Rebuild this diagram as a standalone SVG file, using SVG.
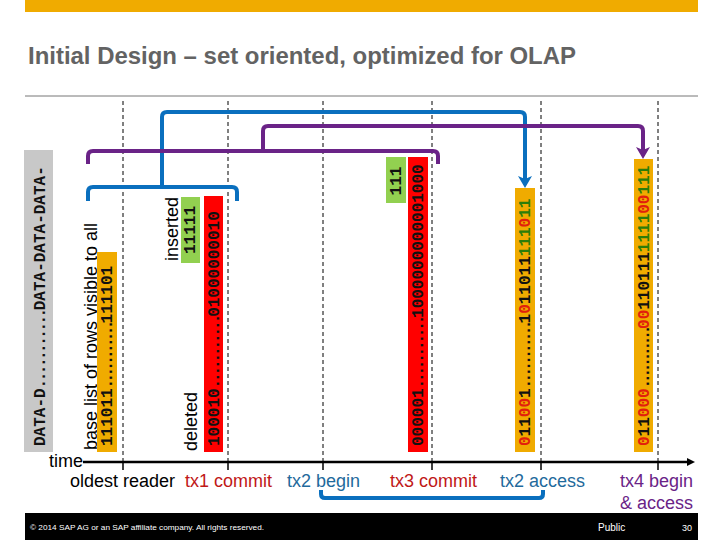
<svg xmlns="http://www.w3.org/2000/svg" width="720" height="540" viewBox="0 0 720 540">
<style>
.mono{font-family:"Liberation Mono","DejaVu Sans Mono",monospace;font-weight:bold;font-size:16px;fill:#111}
.dots{letter-spacing:-3.7px}
.lbl{font-family:"Liberation Sans",Arial,sans-serif;font-size:18px}
.dash{stroke:#000;stroke-width:1;stroke-dasharray:4 3;fill:none}
.tick{stroke:#000;stroke-width:1.5}
.blue{stroke:#0a6fbe;stroke-width:4;fill:none;stroke-linejoin:round}
.purple{stroke:#6a2387;stroke-width:4;fill:none;stroke-linejoin:round}
.r{fill:#e2200c}
.g{fill:#2c7d0a}
</style>
<defs>
<marker id="ab" viewBox="0 0 12 14" refX="4" refY="7" markerWidth="12" markerHeight="14" markerUnits="userSpaceOnUse" orient="auto"><path d="M0,0 L12,7 L0,14 L3,7 Z" fill="#0a6fbe"/></marker>
<marker id="ap" viewBox="0 0 12 14" refX="4" refY="7" markerWidth="12" markerHeight="14" markerUnits="userSpaceOnUse" orient="auto"><path d="M0,0 L12,7 L0,14 L3,7 Z" fill="#6a2387"/></marker>
<marker id="ak" viewBox="0 0 8 8" refX="4" refY="4" markerWidth="8" markerHeight="8" markerUnits="userSpaceOnUse" orient="auto"><path d="M0,0 L8,4 L0,8 Z" fill="#000"/></marker>
</defs>
<rect x="25" y="0" width="673" height="12" fill="#f0ab00"/>
<text x="28" y="64" font-family="Liberation Sans,Arial,sans-serif" font-weight="bold" font-size="23" fill="#636363" textLength="548" lengthAdjust="spacingAndGlyphs">Initial Design – set oriented, optimized for OLAP</text>
<line x1="25" y1="96" x2="698" y2="96" stroke="#777" stroke-width="1"/>

<g id="gridlines">
<line class="dash" x1="123" y1="101" x2="123" y2="462"/>
<line class="dash" x1="228" y1="101" x2="228" y2="462"/>
<line class="dash" x1="323" y1="101" x2="323" y2="462"/>
<line class="dash" x1="432" y1="101" x2="432" y2="462"/>
<line class="dash" x1="541" y1="101" x2="541" y2="462"/>
<line class="dash" x1="658" y1="101" x2="658" y2="462"/>
</g>

<g id="data">
<rect x="24" y="150" width="29" height="302" fill="#c8c8c8"/>
<text class="mono" transform="translate(45,446) rotate(-90)">DATA-D<tspan class="dots" style="letter-spacing:-2.5px">...........</tspan>DATA-DATA-DATA-</text>
</g>

<g id="base">
<text class="lbl" fill="#000" transform="translate(97,450) rotate(-90)">base list of rows visible to all</text>
<rect x="97" y="252" width="20" height="200" fill="#f0ab00"/>
<text class="mono" transform="translate(112,446) rotate(-90)">111011<tspan class="dots">...........</tspan>111101</text>
</g>

<g id="tx1-deleted">
<text class="lbl" fill="#000" transform="translate(197,451) rotate(-90)">deleted</text>
<rect x="204" y="196" width="19" height="256" fill="#ff0000"/>
<text class="mono" transform="translate(219,446) rotate(-90)">100010<tspan class="dots" style="letter-spacing:-3.1px">...........</tspan>01000000010</text>
</g>

<g id="tx1-inserted">
<text class="lbl" fill="#000" text-anchor="end" transform="translate(178,197) rotate(-90)">inserted</text>
<rect x="181" y="197" width="19" height="66" fill="#92d050"/>
<text class="mono" text-anchor="middle" transform="translate(195,230) rotate(-90)">11111</text>
</g>

<g id="tx3-inserted">
<rect x="386" y="157" width="20" height="46" fill="#92d050"/>
<text class="mono" text-anchor="middle" transform="translate(401,181) rotate(-90)">111</text>
</g>

<g id="tx3-deleted">
<rect x="408" y="157" width="20" height="295" fill="#ff0000"/>
<text class="mono" transform="translate(423,446) rotate(-90)">000001<tspan class="dots" style="letter-spacing:-3.2px">...........</tspan>1000000000001000</text>
</g>

<g id="tx2-view">
<rect x="515" y="188" width="20" height="264" fill="#f0ab00"/>
<text class="mono" transform="translate(530,446) rotate(-90)"><tspan class="r">0</tspan>11<tspan class="r">00</tspan>1<tspan class="dots">...........</tspan>1<tspan class="r">0</tspan>11011<tspan class="g">111</tspan><tspan class="r">0</tspan><tspan class="g">11</tspan></text>
</g>

<g id="tx4-view">
<rect x="634" y="159" width="19" height="293" fill="#f0ab00"/>
<text class="mono" transform="translate(649,446) rotate(-90)"><tspan class="r">0</tspan>11<tspan class="r">000</tspan><tspan class="dots" style="letter-spacing:-4.2px">...........</tspan><tspan class="r">00</tspan>110111<tspan class="g">1111</tspan><tspan class="r">00</tspan><tspan class="g">111</tspan></text>
</g>

<g id="connectors">
<path class="blue" d="M88,201 V192 Q88,187 93,187 H232 Q237,187 237,192 V201"/>
<path class="blue" d="M162,187 V117 Q162,112 167,112 H520 Q525,112 525,117 V180" marker-end="url(#ab)"/>
<path class="purple" d="M88,164 V156 Q88,151 93,151 H433 Q438,151 438,156 V164"/>
<path class="purple" d="M263,151 V131 Q263,126 268,126 H638 Q643,126 643,131 V151" marker-end="url(#ap)"/>
<path class="blue" stroke-width="5" d="M321,490 V494 Q321,498 325,498 H539 Q543,498 543,494 V490"/>
</g>

<g id="timeline">
<line x1="83" y1="462" x2="691" y2="462" stroke="#000" stroke-width="2.5" marker-end="url(#ak)"/>
<line class="tick" x1="123" y1="462" x2="123" y2="470"/>
<line class="tick" x1="228" y1="462" x2="228" y2="470"/>
<line class="tick" x1="323" y1="462" x2="323" y2="470"/>
<line class="tick" x1="432" y1="462" x2="432" y2="470"/>
<line class="tick" x1="541" y1="462" x2="541" y2="470"/>
<line class="tick" x1="658" y1="462" x2="658" y2="470"/>
<text class="lbl" x="49" y="467" fill="#000">time</text>
<text class="lbl" x="70" y="487" fill="#000">oldest reader</text>
<text class="lbl" x="185" y="487" fill="#c01818">tx1 commit</text>
<text class="lbl" x="287" y="487" fill="#1f6a9c">tx2 begin</text>
<text class="lbl" x="390" y="487" fill="#c01818">tx3 commit</text>
<text class="lbl" x="500" y="487" fill="#1f6a9c">tx2 access</text>
<text class="lbl" x="693" y="487" fill="#6a2387" text-anchor="end">tx4 begin</text>
<text class="lbl" x="693" y="509" fill="#6a2387" text-anchor="end">&amp; access</text>
</g>

<rect x="25" y="513" width="673" height="27" fill="#000"/>
<text x="30" y="530" font-family="Liberation Sans,Arial,sans-serif" font-size="8" fill="#fff" textLength="234" lengthAdjust="spacingAndGlyphs">© 2014 SAP AG or an SAP affiliate company. All rights reserved.</text>
<text x="598" y="531" font-family="Liberation Sans,Arial,sans-serif" font-size="10" fill="#fff">Public</text>
<text x="692" y="531" font-family="Liberation Sans,Arial,sans-serif" font-size="9" fill="#fff" text-anchor="end">30</text>
</svg>
